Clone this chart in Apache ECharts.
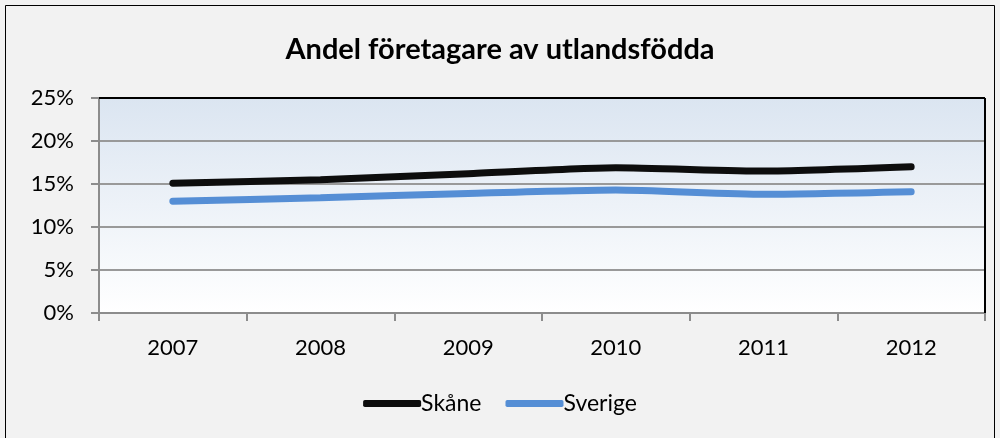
<!DOCTYPE html>
<html><head><meta charset="utf-8">
<script src="https://cdn.jsdelivr.net/npm/echarts@6/dist/echarts.min.js"></script>
<style>html,body{margin:0;padding:0;background:#f2f2f2;}#c{width:1000px;height:438px;}</style>
</head><body><div id="c"></div>
<script>
var years = ['2007','2008','2009','2010','2011','2012'];
var skane = [15.1, 15.5, 16.2, 16.9, 16.5, 17.0];
var sverige = [13.0, 13.4, 13.9, 14.3, 13.8, 14.1];
var yTicks = [0, 5, 10, 15, 20, 25];
var FONT = 'Lato';
var chart = echarts.init(document.getElementById('c'));
chart.setOption({
  backgroundColor: '#f2f2f2',
  animation: false,
  title: {text: 'Andel företagare av utlandsfödda', left: 'center', top: 30,
    textStyle: {fontFamily: FONT, fontSize: 29, fontWeight: 'bold', color: '#000'}},
  graphic: [{type: 'rect', shape: {x: 5.5, y: 5.5, width: 989, height: 440},
    style: {fill: 'none', stroke: '#000', lineWidth: 1}, silent: true}],
  legend: {bottom: 18, left: 'center', itemWidth: 58, itemHeight: 7, itemGap: 24,
    textStyle: {fontFamily: FONT, fontSize: 23, color: '#000', padding: [0,0,0,-5]},
    data: [{name: 'Skåne', icon: 'roundRect'}, {name: 'Sverige', icon: 'roundRect'}]},
  grid: {left: 99, right: 15, top: 98, bottom: 125, show: true, borderWidth: 0,
    backgroundColor: new echarts.graphic.LinearGradient(0,0,0,1,[{offset:0,color:'#dbe5f1'},{offset:1,color:'#ffffff'}])},
  xAxis: {type: 'category', data: years, boundaryGap: true,
    axisLine: {lineStyle: {color: '#8c8c8c', width: 2}},
    axisTick: {show: true, length: 8, lineStyle: {color: '#8c8c8c', width: 2}},
    axisLabel: {fontFamily: FONT, fontSize: 22, color: '#000', margin: 24}},
  yAxis: {type: 'value', min: 0, max: 25, interval: 5,
    axisLine: {show: true, lineStyle: {color: '#8c8c8c', width: 2}},
    axisTick: {show: true, length: 8, lineStyle: {color: '#8c8c8c', width: 2}},
    splitLine: {lineStyle: {color: '#999', width: 2}},
    axisLabel: {fontFamily: FONT, fontSize: 22, color: '#000', margin: 25,
      formatter: function(v){return yTicks.indexOf(v) >= 0 ? v + '%' : '';}}},
  series: [
    {name: 'Skåne', type: 'line', data: skane, smooth: 0.2, symbol: 'none',
      lineStyle: {color: '#0d0d0d', width: 7, cap: 'round'}, itemStyle: {color: '#0d0d0d'}, z: 3},
    {name: 'Sverige', type: 'line', data: sverige, smooth: 0.2, symbol: 'none',
      lineStyle: {color: '#558ed5', width: 7, cap: 'round'}, itemStyle: {color: '#558ed5'}, z: 2},
    {type: 'line', data: [], markLine: {silent: true, symbol: 'none', label: {show: false},
      lineStyle: {color: '#000', width: 2, type: 'solid'},
      data: [[{x: 99, y: 98}, {x: 985, y: 98}], [{x: 985, y: 98}, {x: 985, y: 313}]]}}
  ]
});
</script></body></html>
